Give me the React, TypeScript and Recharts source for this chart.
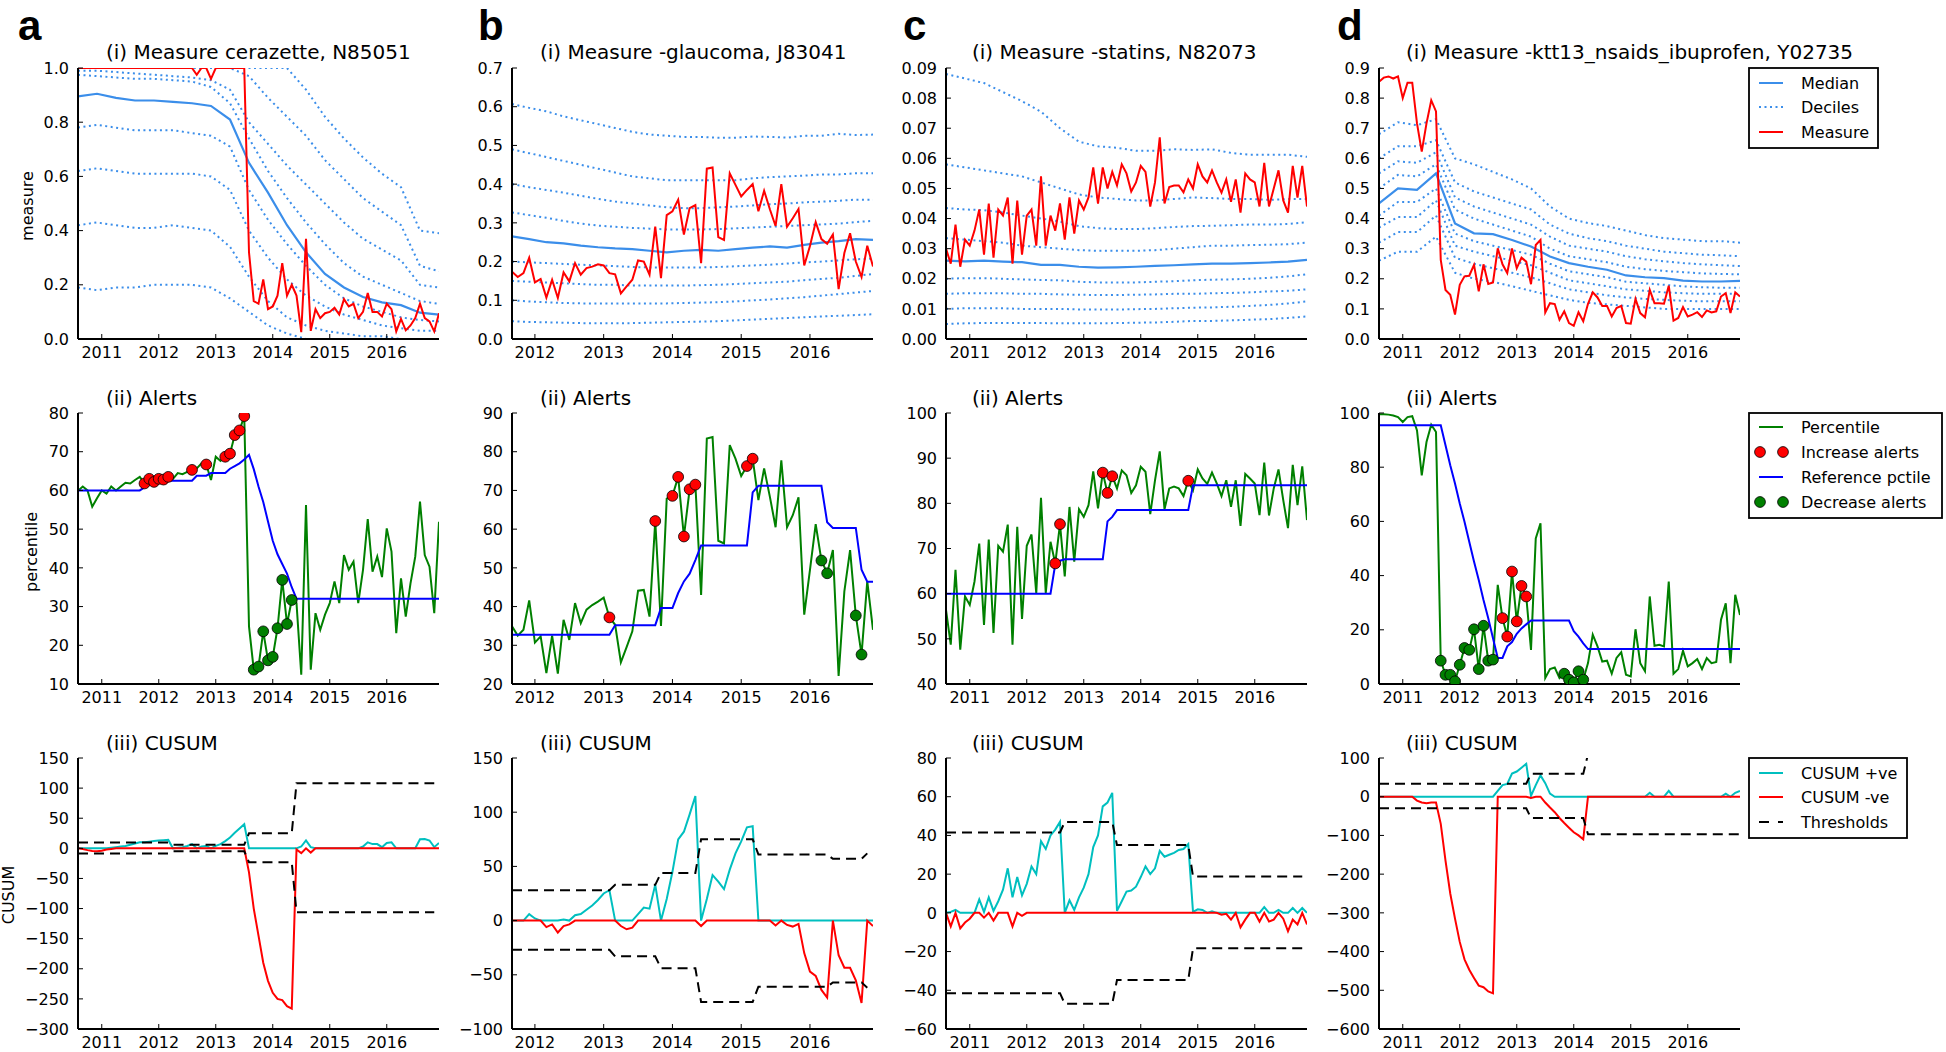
import React from "react";
import { ComposedChart, Line, Scatter, XAxis, YAxis } from "recharts";

const FONT = "DejaVu Sans";
const START_ACD = 2010 + 7 / 12; // Aug 2010
const START_B = 2011 + 8 / 12; // Sep 2011
const END = 2016 + 11 / 12; // Dec 2016

const MED = "#3b8eea";
const RED = "#ff0000";
const GREEN = "#008000";
const BLUE = "#0000ff";
const CYAN = "#00bfbf";

const yearsACD = [2011, 2012, 2013, 2014, 2015, 2016];
const yearsB = [2012, 2013, 2014, 2015, 2016];

// ---------- (i) measure: monthly measure, deciles/median every 4 (b: 3) months ----------
const aMeasure = [
  1, 1, 1, 1, 1, 1, 1, 1, 1, 1, 1, 1, 1, 1, 1, 1, 1, 1, 1, 1, 1, 1, 1, 1, 1, 0.975, 1, 1, 0.96, 1,
  1, 1, 1, 1, 1, 1, 0.32, 0.14, 0.13, 0.22, 0.11, 0.12, 0.16, 0.28, 0.16, 0.2, 0.16, 0.025, 0.37, 0.03,
  0.11, 0.077, 0.095, 0.1, 0.115, 0.09, 0.147, 0.12, 0.13, 0.077, 0.1, 0.17, 0.1, 0.1, 0.083, 0.13, 0.11, 0.028, 0.074, 0.032,
  0.05, 0.077, 0.13, 0.077, 0.065, 0.028, 0.095,
];
const aMedian = [0.895, 0.905, 0.89, 0.88, 0.88, 0.875, 0.87, 0.86, 0.81, 0.65, 0.54, 0.42, 0.32, 0.24, 0.19, 0.155, 0.135, 0.125, 0.097, 0.09];
const aDec90 = [1, 1, 1, 1, 1, 1, 1, 1, 1, 1, 1, 1, 0.92, 0.82, 0.74, 0.67, 0.61, 0.56, 0.4, 0.39];
const aDec80 = [1, 1, 1, 1, 1, 1, 1, 1, 1, 0.97, 0.89, 0.82, 0.75, 0.66, 0.59, 0.52, 0.47, 0.42, 0.27, 0.25];
const aDec70 = [0.99, 0.99, 0.985, 0.98, 0.975, 0.97, 0.965, 0.955, 0.92, 0.8, 0.72, 0.64, 0.57, 0.5, 0.43, 0.37, 0.33, 0.29, 0.2, 0.19];
const aDec60 = [0.975, 0.97, 0.965, 0.96, 0.96, 0.955, 0.95, 0.93, 0.87, 0.74, 0.62, 0.52, 0.43, 0.35, 0.28, 0.23, 0.2, 0.17, 0.14, 0.13];
const aDec40 = [0.78, 0.79, 0.78, 0.77, 0.77, 0.77, 0.76, 0.75, 0.71, 0.55, 0.44, 0.35, 0.27, 0.2, 0.15, 0.12, 0.1, 0.08, 0.07, 0.065];
const aDec30 = [0.62, 0.63, 0.62, 0.61, 0.61, 0.61, 0.61, 0.6, 0.55, 0.4, 0.3, 0.22, 0.16, 0.12, 0.09, 0.07, 0.05, 0.04, 0.03, 0.03];
const aDec20 = [0.42, 0.43, 0.42, 0.41, 0.41, 0.42, 0.41, 0.4, 0.34, 0.23, 0.14, 0.08, 0.05, 0.03, 0.02, 0.01, 0.01, 0, 0, 0];
const aDec10 = [0.19, 0.18, 0.19, 0.19, 0.2, 0.2, 0.2, 0.19, 0.15, 0.1, 0.05, 0.02, 0, 0, 0, 0, 0, 0, 0, 0];

const bMeasure = [
  0.174, 0.16, 0.17, 0.21, 0.146, 0.155, 0.107, 0.153, 0.106, 0.172, 0.149, 0.196, 0.166, 0.183, 0.187, 0.193, 0.19, 0.17, 0.167, 0.118,
  0.136, 0.153, 0.203, 0.2, 0.166, 0.29, 0.157, 0.32, 0.33, 0.36, 0.27, 0.338, 0.346, 0.196, 0.44, 0.443, 0.263, 0.256, 0.428, 0.398,
  0.368, 0.385, 0.4, 0.33, 0.383, 0.335, 0.292, 0.4, 0.29, 0.312, 0.336, 0.19, 0.24, 0.302, 0.258, 0.246, 0.27, 0.129, 0.222, 0.273,
  0.2, 0.16, 0.241, 0.187,
];
const bMedian = [0.265, 0.258, 0.25, 0.247, 0.241, 0.237, 0.234, 0.232, 0.228, 0.224, 0.228, 0.23, 0.228, 0.232, 0.236, 0.239, 0.236, 0.243, 0.249, 0.253, 0.258, 0.256];
const bDec90 = [0.607, 0.597, 0.588, 0.575, 0.565, 0.555, 0.545, 0.535, 0.528, 0.525, 0.522, 0.522, 0.52, 0.52, 0.523, 0.522, 0.52, 0.525, 0.525, 0.53, 0.527, 0.528];
const bDec80 = [0.49, 0.48, 0.47, 0.46, 0.45, 0.44, 0.43, 0.42, 0.415, 0.41, 0.41, 0.41, 0.41, 0.41, 0.415, 0.418, 0.42, 0.422, 0.425, 0.425, 0.428, 0.428];
const bDec70 = [0.4, 0.392, 0.385, 0.378, 0.37, 0.362, 0.355, 0.35, 0.345, 0.34, 0.338, 0.338, 0.34, 0.342, 0.345, 0.348, 0.35, 0.353, 0.355, 0.357, 0.36, 0.36];
const bDec60 = [0.327, 0.32, 0.313, 0.305, 0.298, 0.293, 0.29, 0.287, 0.285, 0.283, 0.283, 0.283, 0.284, 0.286, 0.288, 0.29, 0.292, 0.294, 0.296, 0.298, 0.302, 0.305];
const bDec40 = [0.2, 0.198, 0.196, 0.194, 0.192, 0.19, 0.188, 0.186, 0.185, 0.185, 0.185, 0.185, 0.186, 0.188, 0.19, 0.192, 0.195, 0.198, 0.2, 0.203, 0.206, 0.208];
const bDec30 = [0.15, 0.148, 0.146, 0.144, 0.142, 0.14, 0.14, 0.138, 0.138, 0.138, 0.138, 0.139, 0.14, 0.142, 0.144, 0.146, 0.148, 0.152, 0.155, 0.158, 0.163, 0.168];
const bDec20 = [0.1, 0.097, 0.095, 0.093, 0.092, 0.092, 0.092, 0.092, 0.092, 0.092, 0.093, 0.094, 0.095, 0.097, 0.1, 0.102, 0.105, 0.108, 0.112, 0.116, 0.12, 0.124];
const bDec10 = [0.046, 0.044, 0.043, 0.042, 0.041, 0.041, 0.041, 0.041, 0.042, 0.043, 0.044, 0.045, 0.046, 0.048, 0.05, 0.052, 0.054, 0.056, 0.058, 0.06, 0.062, 0.064];

const cMeasure = [
  0.03, 0.025, 0.038, 0.024, 0.033, 0.031, 0.036, 0.043, 0.028, 0.045, 0.027, 0.043, 0.041, 0.047, 0.025, 0.046, 0.028, 0.041, 0.043, 0.031,
  0.054, 0.031, 0.041, 0.036, 0.045, 0.033, 0.047, 0.035, 0.046, 0.043, 0.047, 0.057, 0.045, 0.057, 0.05, 0.0555, 0.051, 0.058, 0.055, 0.049,
  0.052, 0.0575, 0.0555, 0.044, 0.052, 0.067, 0.045, 0.0505, 0.051, 0.051, 0.0487, 0.053, 0.05, 0.058, 0.054, 0.052, 0.056, 0.052, 0.0486, 0.053,
  0.0456, 0.053, 0.042, 0.055, 0.053, 0.052, 0.044, 0.0585, 0.044, 0.05, 0.056, 0.046, 0.042, 0.0575, 0.047, 0.0575, 0.044,
];
const cMedian = [0.026, 0.0258, 0.026, 0.0257, 0.0255, 0.0246, 0.0246, 0.024, 0.0237, 0.0238, 0.024, 0.0243, 0.0245, 0.0248, 0.025, 0.025, 0.0252, 0.0254, 0.0257, 0.0263];
const cDec90 = [0.088, 0.0865, 0.085, 0.082, 0.079, 0.0755, 0.07, 0.0655, 0.064, 0.0635, 0.0625, 0.0625, 0.063, 0.0628, 0.063, 0.0618, 0.0612, 0.0612, 0.0612, 0.0605];
const cDec80 = [0.058, 0.057, 0.056, 0.055, 0.054, 0.052, 0.05, 0.048, 0.047, 0.0465, 0.046, 0.046, 0.0465, 0.047, 0.0468, 0.0465, 0.0465, 0.0462, 0.0465, 0.0465];
const cDec70 = [0.0435, 0.043, 0.0428, 0.042, 0.041, 0.04, 0.039, 0.0375, 0.0368, 0.0365, 0.0365, 0.0368, 0.0372, 0.0375, 0.0376, 0.0378, 0.038, 0.038, 0.0382, 0.0388];
const cDec60 = [0.0335, 0.033, 0.0325, 0.032, 0.031, 0.0305, 0.03, 0.0295, 0.0293, 0.0293, 0.0293, 0.0295, 0.03, 0.0305, 0.031, 0.031, 0.0312, 0.0313, 0.0315, 0.032];
const cDec40 = [0.02, 0.0202, 0.0202, 0.02, 0.0198, 0.0196, 0.0195, 0.019, 0.0188, 0.0188, 0.0188, 0.019, 0.0192, 0.0195, 0.0197, 0.0198, 0.02, 0.0203, 0.0208, 0.0215];
const cDec30 = [0.015, 0.0152, 0.0152, 0.0152, 0.015, 0.015, 0.0148, 0.0147, 0.0146, 0.0146, 0.0147, 0.0148, 0.015, 0.015, 0.0152, 0.0153, 0.0155, 0.0158, 0.016, 0.0165];
const cDec20 = [0.01, 0.0102, 0.0102, 0.0102, 0.01, 0.01, 0.01, 0.0098, 0.0098, 0.0098, 0.0099, 0.01, 0.0102, 0.0104, 0.0105, 0.0107, 0.011, 0.0113, 0.0118, 0.0125];
const cDec10 = [0.005, 0.0052, 0.0053, 0.0053, 0.0053, 0.0053, 0.0052, 0.0052, 0.0052, 0.0053, 0.0054, 0.0055, 0.0057, 0.006, 0.006, 0.0062, 0.0064, 0.0066, 0.007, 0.0075];

const dMeasure = [
  0.854, 0.868, 0.872, 0.865, 0.872, 0.8, 0.851, 0.851, 0.716, 0.622, 0.716, 0.793, 0.756, 0.263, 0.163, 0.147, 0.081, 0.18, 0.208, 0.21,
  0.246, 0.158, 0.248, 0.183, 0.188, 0.301, 0.248, 0.219, 0.301, 0.235, 0.27, 0.257, 0.182, 0.312, 0.329, 0.088, 0.119, 0.116, 0.064, 0.092,
  0.053, 0.044, 0.089, 0.059, 0.117, 0.155, 0.138, 0.11, 0.11, 0.075, 0.103, 0.11, 0.053, 0.051, 0.133, 0.086, 0.072, 0.163, 0.119, 0.119,
  0.117, 0.177, 0.061, 0.07, 0.106, 0.075, 0.081, 0.089, 0.073, 0.095, 0.088, 0.092, 0.141, 0.152, 0.086, 0.155, 0.141,
];
const dMedian = [0.45, 0.5, 0.495, 0.55, 0.384, 0.351, 0.348, 0.329, 0.307, 0.274, 0.252, 0.24, 0.23, 0.211, 0.205, 0.202, 0.194, 0.191, 0.191, 0.193];
const dDec90 = [0.68, 0.72, 0.71, 0.73, 0.6, 0.58, 0.555, 0.53, 0.5, 0.44, 0.4, 0.385, 0.375, 0.36, 0.345, 0.335, 0.33, 0.325, 0.325, 0.32];
const dDec80 = [0.6, 0.64, 0.64, 0.66, 0.52, 0.49, 0.47, 0.45, 0.43, 0.38, 0.35, 0.335, 0.325, 0.31, 0.3, 0.29, 0.285, 0.28, 0.278, 0.275];
const dDec70 = [0.55, 0.59, 0.585, 0.62, 0.47, 0.44, 0.42, 0.4, 0.38, 0.34, 0.31, 0.3, 0.29, 0.275, 0.265, 0.258, 0.252, 0.248, 0.245, 0.242];
const dDec60 = [0.5, 0.545, 0.54, 0.58, 0.43, 0.4, 0.38, 0.36, 0.34, 0.3, 0.275, 0.265, 0.255, 0.24, 0.232, 0.226, 0.222, 0.218, 0.216, 0.215];
const dDec40 = [0.41, 0.455, 0.455, 0.5, 0.35, 0.325, 0.31, 0.295, 0.28, 0.25, 0.225, 0.215, 0.205, 0.19, 0.185, 0.18, 0.175, 0.172, 0.17, 0.17];
const dDec30 = [0.37, 0.405, 0.405, 0.46, 0.31, 0.29, 0.275, 0.26, 0.245, 0.22, 0.195, 0.185, 0.175, 0.165, 0.16, 0.155, 0.152, 0.15, 0.15, 0.15];
const dDec20 = [0.32, 0.355, 0.355, 0.41, 0.27, 0.25, 0.235, 0.22, 0.205, 0.185, 0.165, 0.155, 0.145, 0.138, 0.133, 0.13, 0.127, 0.125, 0.125, 0.125];
const dDec10 = [0.26, 0.29, 0.29, 0.34, 0.22, 0.2, 0.19, 0.175, 0.16, 0.145, 0.13, 0.12, 0.115, 0.11, 0.105, 0.1, 0.1, 0.1, 0.1, 0.1];

// ---------- (ii) alerts: percentile, reference percentile, alert months ----------
const aPct = [
  59.9, 61, 60, 55.8, 58, 60, 59.2, 61, 60, 61, 62, 61.8, 62.7, 63.5, 61.8, 63, 62.2, 63, 62.8, 63.5,
  63, 64.5, 64.2, 64.8, 65.3, 65.7, 67, 66.7, 62.7, 68.7, 67.6, 68.7, 69.5, 74.3, 75.5, 79.2, 24.9, 13.7, 14.5, 23.6,
  16.1, 17, 24.4, 36.9, 25.5, 31.7, 30.9, 12.4, 56.2, 13.7, 28.3, 24, 27.9, 30.9, 36.5, 30.9, 43.3, 39.5, 41.6, 30.9,
  39.5, 52.6, 39, 42.9, 37.6, 50.2, 44.2, 23.1, 37.3, 27.4, 36, 42.9, 57.1, 43.3, 40.3, 28.3, 51.9,
];
const aRef = [
  60, 60, 60, 60, 60, 60, 60, 60, 60, 60, 60, 60, 60, 60, 60.8, 61.5, 62, 62.4, 62.5, 62.5,
  62.5, 62.5, 62.5, 62.5, 62.5, 63.8, 63.8, 63.8, 64.5, 64.5, 64.5, 64.5, 65.6, 66.3, 67, 68, 69.2, 65.5, 61, 57,
  52, 47, 43.5, 41, 38.5, 35, 32, 32, 32, 32, 32, 32, 32, 32, 32, 32, 32, 32, 32, 32,
  32, 32, 32, 32, 32, 32, 32, 32, 32, 32, 32, 32, 32, 32, 32, 32, 32,
];
const aIncIdx = [14, 15, 16, 17, 18, 19, 24, 27, 31, 32, 33, 34, 35];
const aDecIdx = [37, 38, 39, 40, 41, 42, 43, 44, 45];

const bPct = [
  34.9, 32.5, 34, 41.6, 30.7, 32.3, 22.8, 32.5, 22.7, 36.6, 31.4, 40.9, 35.7, 39.2, 40.4, 41.3, 42.3, 37.2, 35.3, 25.6,
  29.5, 33.6, 44.1, 44.3, 37.4, 62.1, 35, 67.9, 68.6, 73.5, 58.1, 70.3, 71.5, 43, 83.4, 83.8, 57, 56.3, 81.7, 78.2,
  73.7, 76.3, 78.2, 67.5, 75.7, 68.4, 60.5, 77.8, 60.5, 63.6, 68.2, 37.9, 49.5, 61.3, 51.9, 48.6, 54.6, 22.1, 43.9, 54.6,
  37.7, 27.6, 46.5, 34,
];
const bRef = [
  32.7, 32.7, 32.7, 32.7, 32.7, 32.7, 32.7, 32.7, 32.7, 32.7, 32.7, 32.7, 32.7, 32.7, 32.7, 32.7, 32.7, 32.7, 35.2, 35.2,
  35.2, 35.2, 35.2, 35.2, 35.2, 35.2, 39.6, 39.6, 39.6, 43.5, 46.5, 48.5, 52, 55.8, 55.8, 55.8, 55.8, 55.8, 55.8, 55.8,
  55.8, 55.8, 69.5, 71.2, 71.2, 71.2, 71.2, 71.2, 71.2, 71.2, 71.2, 71.2, 71.2, 71.2, 71.2, 61.8, 60.3, 60.3, 60.3, 60.3,
  60.3, 49.5, 46.4, 46.4,
];
const bIncIdx = [17, 25, 28, 29, 30, 31, 32, 41, 42];
const bDecIdx = [54, 55, 60, 61];

const cPct = [
  56.4, 48.7, 65.3, 47.6, 59.4, 57.5, 62.7, 71.1, 53.1, 72, 51.3, 70.6, 69.3, 75.3, 48.7, 74.8, 54.4, 70.6, 73.1, 60.1,
  81.2, 60.1, 71.5, 66.7, 75.4, 63.8, 79.2, 67.1, 78.7, 77, 79.6, 87.1, 78.9, 86.8, 82.3, 86, 83.3, 87.3, 86.2, 82.3,
  84, 88.1, 87, 77.6, 85.1, 91.5, 78.7, 83.3, 83.7, 83.3, 81.6, 85, 82.9, 87.5, 85.5, 84.3, 86.8, 84.4, 81.6, 85.1,
  79.2, 85.1, 75, 86.5, 85.5, 84.4, 77.4, 89, 77.3, 83.3, 87.5, 80.7, 74.5, 88.5, 79.6, 88.2, 76.3,
];
const cRef = [
  60, 60, 60, 60, 60, 60, 60, 60, 60, 60, 60, 60, 60, 60, 60, 60, 60, 60, 60, 60,
  60, 60, 60, 66.5, 67.3, 67.6, 67.6, 67.6, 67.6, 67.6, 67.6, 67.6, 67.6, 67.6, 76, 77, 78.5, 78.5, 78.5, 78.5,
  78.5, 78.5, 78.5, 78.5, 78.5, 78.5, 78.5, 78.5, 78.5, 78.5, 78.5, 78.5, 84, 84, 84, 84, 84, 84, 84, 84,
  84, 84, 84, 84, 84, 84, 84, 84, 84, 84, 84, 84, 84, 84, 84, 84, 84,
];
const cIncIdx = [23, 24, 33, 34, 35, 51];
const cDecIdx: number[] = [];

const dPct = [
  99.5, 99.5, 99.4, 99.1, 98.5, 96.7, 98.5, 98.8, 93.6, 77, 89.3, 95.7, 93, 8.6, 3.4, 3.4, 1, 7.1, 13.3, 12.6,
  20.2, 5.5, 21.5, 8.6, 9, 36.6, 24.3, 17.5, 41.5, 23.1, 36.2, 32.3, 12.6, 53.7, 59.3, 2.2, 5.5, 6.1, 2.2, 3.8,
  1.6, 0.6, 4.7, 1.6, 7.7, 18.2, 13.9, 8.3, 8.6, 3.8, 9.6, 11.7, 3.4, 2.8, 20.2, 7.7, 4.7, 32.3, 14.1, 14.5,
  13.9, 37.8, 3.8, 5.5, 12.3, 6.5, 7.7, 9.2, 5.5, 9.6, 7.7, 8.1, 23.7, 29.8, 7.7, 32.9, 25.5,
];
const dRef = [
  95.5, 95.5, 95.5, 95.5, 95.5, 95.5, 95.5, 95.5, 95.5, 95.5, 95.5, 95.5, 95.5, 95.5, 88.1, 80.7, 74, 66.6, 59.9, 52.5,
  45.2, 38.4, 31, 24.3, 16.9, 9.6, 9.6, 13.9, 15.5, 18.5, 20.5, 22, 23.4, 23.4, 23.4, 23.4, 23.4, 23.4, 23.4, 23.4,
  23.4, 19.5, 17.5, 15, 12.9, 12.9, 12.9, 12.9, 12.9, 12.9, 12.9, 12.9, 12.9, 12.9, 12.9, 12.9, 12.9, 12.9, 12.9, 12.9,
  12.9, 12.9, 12.9, 12.9, 12.9, 12.9, 12.9, 12.9, 12.9, 12.9, 12.9, 12.9, 12.9, 12.9, 12.9, 12.9, 12.9,
];
const dIncIdx = [26, 27, 28, 29, 30, 31];
const dDecIdx = [13, 14, 15, 16, 17, 18, 19, 20, 21, 22, 23, 24, 39, 40, 41, 42, 43];

// ---------- (iii) CUSUM ----------
const aCusPos = [
  0, 0, 0, 0, 0, 0, 0, 1, 2, 3, 4, 6, 8, 10, 10, 11, 12, 13, 13.5, 14,
  0, 1, 2, 4, 7, 0, 3, 4, 0, 4, 7, 12, 18, 26, 33, 40, 0, 0, 0, 0,
  0, 0, 0, 0, 0, 0, 0, 3, 13, 2, 0, 0, 0, 0, 0, 0, 0, 0, 0, 0,
  3, 10, 7, 7, 2, 9, 10, 0, 0, 0, 0, 0, 15, 15.5, 13, 2, 9,
];
const aCusNeg = [
  0, -1, -3, -4.5, -5, -4, -2, -1, 0, 0, 0, 0, 0, 0, 0, 0, 0, 0, 0, 0,
  0, 0, 0, 0, 0, 0, 0, 0, 0, 0, 0, 0, 0, 0, 0, 0, -40, -100, -145, -190,
  -220, -240, -250, -252, -262, -266, -2, -8, 0, -7, 0, 0, 0, 0, 0, 0, 0, 0, 0, 0,
  0, 0, 0, 0, 0, 0, 0, 0, 0, 0, 0, 0, 0, 0, 0, 0, 0,
];
const aThrUp = [
  9.5, 9.5, 9.5, 9.5, 9.5, 9.5, 9.5, 9.5, 9.5, 9.5, 9.5, 9.5, 9.5, 9.5, 9.5, 9.5, 9.5, 9.5, 9.5, 9.5,
  6, 6, 6, 6, 6, 6, 6, 6, 6, 6, 6, 6, 6, 6, 6, 6, 25, 25, 25, 25,
  25, 25, 25, 25, 25, 25, 108, 108, 108, 108, 108, 108, 108, 108, 108, 108, 108, 108, 108, 108,
  108, 108, 108, 108, 108, 108, 108, 108, 108, 108, 108, 108, 108, 108, 108, 108,
];
const aThrLo = [
  -8.5, -8.5, -8.5, -8.5, -8.5, -8.5, -8.5, -8.5, -8.5, -8.5, -8.5, -8.5, -8.5, -8.5, -8.5, -8.5, -8.5, -8.5, -8.5, -8.5,
  -5, -5, -5, -5, -5, -5, -5, -5, -5, -5, -5, -5, -5, -5, -5, -5, -23, -23, -23, -23,
  -23, -23, -23, -23, -23, -23, -106, -106, -106, -106, -106, -106, -106, -106, -106, -106, -106, -106, -106, -106,
  -106, -106, -106, -106, -106, -106, -106, -106, -106, -106, -106, -106, -106, -106, -106, -106,
];

const bCusPos = [
  0, 0, 0, 6, 2, 0, 0, 0, 0, 1, 0, 5, 6, 10, 14, 19, 25, 28, 0, 0,
  0, 0, 6, 12, 11, 33, 0, 20, 45, 75, 82, 98, 115, 0, 20, 42, 36, 29, 47, 62,
  73, 86, 87, 0, 0, 0, 0, 0, 0, 0, 0, 0, 0, 0, 0, 0, 0, 0, 0, 0,
  0, 0, 0, 0,
];
const bCusNeg = [
  0, 0, 0, 0, 0, 0, -6, -3.5, -11, -5, -3.5, 0, 0, 0, 0, 0, 0, 0, 0, -5,
  -8, -6.5, 0, 0, 0, 0, 0, 0, 0, 0, 0, 0, 0, -5, 0, 0, 0, 0, 0, 0,
  0, 0, 0, 0, 0, 0, -4.5, 0, -4, -5.5, -3, -30, -47, -51, -64, -71, 0, -32, -43.5, -43.5,
  -55, -76, 0, -5,
];
const bThrUp = [
  28, 28, 28, 28, 28, 28, 28, 28, 28, 28, 28, 28, 28, 28, 28, 28, 28, 28, 33, 33,
  33, 33, 33, 33, 33, 33, 44, 44, 44, 44, 44, 44, 44, 75, 75, 75, 75, 75, 75, 75,
  75, 75, 75, 61, 61, 61, 61, 61, 61, 61, 61, 61, 61, 61, 61, 61, 57, 57, 57, 57,
  57, 57, 62,
];
const bThrLo = [
  -27, -27, -27, -27, -27, -27, -27, -27, -27, -27, -27, -27, -27, -27, -27, -27, -27, -27, -33, -33,
  -33, -33, -33, -33, -33, -33, -44, -44, -44, -44, -44, -44, -44, -75, -75, -75, -75, -75, -75, -75,
  -75, -75, -75, -61, -61, -61, -61, -61, -61, -61, -61, -61, -61, -61, -61, -61, -57, -57, -57, -57,
  -57, -57, -62,
];

const cCusPos = [
  0, 0.5, 1.5, 0, 0, 0, 0, 7, 0.5, 8, 1, 6, 12, 23, 8, 18.5, 9, 15, 24, 20,
  37, 33, 40, 43, 47, 0, 6.5, 1.5, 8, 13, 20, 34, 40, 55, 57, 62, 1, 6, 11, 11.5,
  13.5, 18.5, 24, 20, 23, 32, 29, 30, 31, 32.5, 33, 35.5, 0.5, 1.8, 1.5, 0, 0.8, 0, 0, 0,
  0, 0, 0, 0, 0, 0, 0, 3, 0, 0, 1.5, 0, 0, 2.5, 0, 2.5, 0,
];
const cCusNeg = [
  0, -7, 0, -8, -5, -3, 0, 0, -2.5, 0, -4, 0, 0, 0, -7, 0, -1.5, 0, 0, 0,
  0, 0, 0, 0, 0, 0, 0, 0, 0, 0, 0, 0, 0, 0, 0, 0, 0, 0, 0, 0,
  0, 0, 0, 0, 0, 0, 0, 0, 0, 0, 0, 0, 0, 0, 0, 0, 0, 0, -1, -0.5,
  -3.5, 0, -7.5, -3.5, 0, 0, -4.5, 0, -4.5, -3.5, 0, -3, -9.5, -3.5, -6, 0, -6,
];
const cThrUp = [
  41.5, 41.5, 41.5, 41.5, 41.5, 41.5, 41.5, 41.5, 41.5, 41.5, 41.5, 41.5, 41.5, 41.5, 41.5, 41.5, 41.5, 41.5, 41.5, 41.5,
  41.5, 41.5, 41.5, 41.5, 41.5, 47, 47, 47, 47, 47, 47, 47, 47, 47, 47, 47, 35, 35, 35, 35,
  35, 35, 35, 35, 35, 35, 35, 35, 35, 35, 35, 35, 18.8, 18.8, 18.8, 18.8, 18.8, 18.8, 18.8, 18.8,
  18.8, 18.8, 18.8, 18.8, 18.8, 18.8, 18.8, 18.8, 18.8, 18.8, 18.8, 18.8, 18.8, 18.8, 18.8, 18.8,
];
const cThrLo = [
  -41.5, -41.5, -41.5, -41.5, -41.5, -41.5, -41.5, -41.5, -41.5, -41.5, -41.5, -41.5, -41.5, -41.5, -41.5, -41.5, -41.5, -41.5, -41.5, -41.5,
  -41.5, -41.5, -41.5, -41.5, -41.5, -47, -47, -47, -47, -47, -47, -47, -47, -47, -47, -47, -34.7, -34.7, -34.7, -34.7,
  -34.7, -34.7, -34.7, -34.7, -34.7, -34.7, -34.7, -34.7, -34.7, -34.7, -34.7, -34.7, -18.3, -18.3, -18.3, -18.3, -18.3, -18.3, -18.3, -18.3,
  -18.3, -18.3, -18.3, -18.3, -18.3, -18.3, -18.3, -18.3, -18.3, -18.3, -18.3, -18.3, -18.3, -18.3, -18.3, -18.3,
];

const dCusPos = [
  0, 0, 0, 0, 0, 0, 0, 0, 0, 0, 0, 0, 0, 0, 0, 0, 0, 0, 0, 0,
  0, 0, 0, 0, 0, 15, 30, 33, 60, 65, 75, 85, 2, 30, 55, 35, 8, 0, 0, 0,
  0, 0, 0, 0, 0, 0, 0, 0, 0, 0, 0, 0, 0, 0, 0, 0, 0, 10, 0, 0,
  0, 15, 0, 0, 0, 0, 0, 0, 0, 0, 0, 0, 0, 8, 0, 10, 15,
];
const dCusNeg = [
  0, 0, 0, 0, 0, 0, 0, 0, -10, -15, -17, -15, -15, -70, -165, -250, -315, -375, -420, -447,
  -468, -488, -492, -503, -508, 0, 0, 0, 0, 0, 0, 0, -3, 0, 0, -15, -28, -40, -55, -68,
  -80, -92, -100, -110, 0, 0, 0, 0, 0, 0, 0, 0, 0, 0, 0, 0, 0, 0, 0, 0,
  0, 0, 0, 0, 0, 0, 0, 0, 0, 0, 0, 0, 0, 0, 0, 0, 0,
];
const dThrUp = [
  33.5, 33.5, 33.5, 33.5, 33.5, 33.5, 33.5, 33.5, 33.5, 33.5, 33.5, 33.5, 33.5, 33.5, 33.5, 33.5, 33.5, 33.5, 33.5, 33.5,
  33.5, 33.5, 33.5, 33.5, 33.5, 33.5, 33.5, 33.5, 33.5, 33.5, 33.5, 33.5, 59, 59, 59, 59, 59, 59, 59, 59,
  59, 59, 59, 59, 110, 110, 110, 110, 110, 110, 110, 110, 110, 110, 110, 110, 110, 110, 110, 110,
  110, 110, 110, 110, 110, 110, 110, 110, 110, 110, 110, 110, 110, 110, 110, 110, 110,
];
const dThrLo = [
  -30, -30, -30, -30, -30, -30, -30, -30, -30, -30, -30, -30, -30, -30, -30, -30, -30, -30, -30, -30,
  -30, -30, -30, -30, -30, -30, -30, -30, -30, -30, -30, -30, -55, -55, -55, -55, -55, -55, -55, -55,
  -55, -55, -55, -55, -97, -97, -97, -97, -97, -97, -97, -97, -97, -97, -97, -97, -97, -97, -97, -97,
  -97, -97, -97, -97, -97, -97, -97, -97, -97, -97, -97, -97, -97, -97, -97, -97, -97,
];

// ---------- y ticks ----------
const aMeasTicks = [0, 0.2, 0.4, 0.6, 0.8, 1.0];
const bMeasTicks = [0, 0.1, 0.2, 0.3, 0.4, 0.5, 0.6, 0.7];
const cMeasTicks = [0, 0.01, 0.02, 0.03, 0.04, 0.05, 0.06, 0.07, 0.08, 0.09];
const dMeasTicks = [0, 0.1, 0.2, 0.3, 0.4, 0.5, 0.6, 0.7, 0.8, 0.9];
const aPctTicks = [10, 20, 30, 40, 50, 60, 70, 80];
const bPctTicks = [20, 30, 40, 50, 60, 70, 80, 90];
const cPctTicks = [40, 50, 60, 70, 80, 90, 100];
const dPctTicks = [0, 20, 40, 60, 80, 100];
const aCusTicks = [-300, -250, -200, -150, -100, -50, 0, 50, 100, 150];
const bCusTicks = [-100, -50, 0, 50, 100, 150];
const cCusTicks = [-60, -40, -20, 0, 20, 40, 60, 80];
const dCusTicks = [-600, -500, -400, -300, -200, -100, 0, 100];

// ---------- helpers ----------
type Pt = { x: number; y: number };
type LineSpec = { data: Pt[]; color: string; width?: number; dash?: string };
type DotSpec = { data: Pt[]; color: string };

const ser = (start: number, vals: number[], step = 1): Pt[] => vals.map((v, i) => ({ x: start + (i * step) / 12, y: v }));
const at = (start: number, vals: number[], idx: number[]): Pt[] => idx.map((i) => ({ x: start + i / 12, y: vals[i] }));

const decileLines = (start: number, arrs: number[][], step: number): LineSpec[] =>
  arrs.map((a) => ({ data: ser(start, a, step), color: MED, width: 2, dash: "2 3.5" }));

const measureLines = (start: number, decs: number[][], med: number[], meas: number[], step: number): LineSpec[] => [
  ...decileLines(start, decs, step),
  { data: ser(start, med, step), color: MED, width: 2.2 },
  { data: ser(start, meas), color: RED, width: 2 },
];
const cusumLines = (start: number, pos: number[], neg: number[], up: number[], lo: number[]): LineSpec[] => [
  { data: ser(start, pos), color: CYAN, width: 2 },
  { data: ser(start, neg), color: RED, width: 2 },
  { data: ser(start, up), color: "#000", width: 2, dash: "10 6" },
  { data: ser(start, lo), color: "#000", width: 2, dash: "10 6" },
];

const PW = 361;
const PH = 271;
const YW = 72;
const TM = 10;
const RM = 10;
const XH = 34;
const COLS = [78, 512, 946, 1379];
const ROWS = [68, 413, 758];
const DOT_R = 5.4;

const tickStyle = { fill: "#000", fontSize: 16, fontFamily: FONT };
const axisStyle = { stroke: "#000", strokeWidth: 2 };

function Panel(props: {
  col: number;
  row: number;
  xStart: number;
  xTicks: number[];
  yTicks: number[];
  digits: number;
  lines: LineSpec[];
  dots?: DotSpec[];
}) {
  const { col, row, xStart, xTicks, yTicks, digits, lines, dots } = props;
  const yDomain = [yTicks[0], yTicks[yTicks.length - 1]];
  const fmt = (v: number) => v.toFixed(digits).replace("-", "\u2212");
  return (
    <div style={{ position: "absolute", left: COLS[col] - YW, top: ROWS[row] - TM }}>
      <ComposedChart width={YW + PW + RM} height={TM + PH + XH} margin={{ top: TM, right: RM, bottom: 0, left: 0 }}>
        <XAxis type="number" dataKey="x" domain={[xStart, END]} ticks={xTicks} interval={0} allowDataOverflow height={XH}
          tickSize={-5} tickMargin={13} tick={tickStyle} axisLine={axisStyle} tickLine={{ stroke: "#000" }} />
        <XAxis xAxisId="top" orientation="top" type="number" dataKey="x" domain={[xStart, END]} ticks={xTicks} interval={0}
          allowDataOverflow height={0} tickSize={-5} tick={false} axisLine={axisStyle} tickLine={{ stroke: "#000" }} />
        <YAxis type="number" dataKey="y" domain={yDomain} ticks={yTicks} interval={0} allowDataOverflow width={YW}
          tickSize={-5} tickMargin={14} tick={tickStyle} axisLine={axisStyle} tickLine={{ stroke: "#000" }} tickFormatter={fmt} />
        <YAxis yAxisId="right" orientation="right" type="number" domain={yDomain} ticks={yTicks} interval={0} allowDataOverflow
          width={0} tickSize={-5} tick={false} axisLine={axisStyle} tickLine={{ stroke: "#000" }} />
        {lines.map((l, i) => (
          <Line key={"l" + i} data={l.data} dataKey="y" type="linear" stroke={l.color} strokeWidth={l.width ?? 2}
            strokeDasharray={l.dash} dot={false} activeDot={false} isAnimationActive={false} />
        ))}
        {(dots ?? []).map((d, i) => (
          <Scatter key={"s" + i} data={d.data} dataKey="y" fill={d.color} isAnimationActive={false}
            shape={(p: any) => <circle cx={p.cx} cy={p.cy} r={DOT_R} fill={d.color} stroke="#000" strokeWidth={0.8} />} />
        ))}
      </ComposedChart>
    </div>
  );
}

const titles1 = [
  "(i) Measure cerazette, N85051",
  "(i) Measure -glaucoma, J83041",
  "(i) Measure -statins, N82073",
  "(i) Measure -ktt13_nsaids_ibuprofen, Y02735",
];
const titleOffset = [28, 28, 26, 27];
const letters = ["a", "b", "c", "d"];
const letterX = [18, 478, 903, 1337];

function LegendBox({ x, y, w, h }: { x: number; y: number; w: number; h: number }) {
  return <rect x={x} y={y} width={w} height={h} fill="#fff" stroke="#000" strokeWidth={1.8} />;
}

function Overlay() {
  const t = { fontFamily: FONT, fill: "#000" } as const;
  const lx1 = 1759;
  const lx2 = 1783;
  const tx = 1801;
  return (
    <svg width={1946} height={1052} style={{ position: "absolute", left: 0, top: 0, pointerEvents: "none" }}>
      {letters.map((l, i) => (
        <text key={l} x={letterX[i]} y={40} fontFamily="Liberation Sans" fontWeight="bold" fontSize={42}>{l}</text>
      ))}
      {COLS.map((c, i) => (
        <g key={"t" + i}>
          <text {...t} x={c + titleOffset[i]} y={59} fontSize={20}>{titles1[i]}</text>
          <text {...t} x={c + titleOffset[i]} y={405} fontSize={20}>(ii) Alerts</text>
          <text {...t} x={c + titleOffset[i]} y={750} fontSize={20}>(iii) CUSUM</text>
        </g>
      ))}
      <text {...t} fontSize={16} textAnchor="middle" transform="translate(33,206) rotate(-90)">measure</text>
      <text {...t} fontSize={16} textAnchor="middle" transform="translate(37,552) rotate(-90)">percentile</text>
      <text {...t} fontSize={16} textAnchor="middle" transform="translate(14,895) rotate(-90)">CUSUM</text>

      <LegendBox x={1749} y={68} w={129} h={80} />
      <line x1={lx1} x2={lx2} y1={83} y2={83} stroke={MED} strokeWidth={2} />
      <text {...t} fontSize={16} x={tx} y={89}>Median</text>
      <line x1={lx1} x2={lx2} y1={107} y2={107} stroke={MED} strokeWidth={2} strokeDasharray="2 3.5" />
      <text {...t} fontSize={16} x={tx} y={113}>Deciles</text>
      <line x1={lx1} x2={lx2} y1={132} y2={132} stroke={RED} strokeWidth={2} />
      <text {...t} fontSize={16} x={tx} y={138}>Measure</text>

      <LegendBox x={1749} y={413} w={193} h={105} />
      <line x1={lx1} x2={lx2} y1={427} y2={427} stroke={GREEN} strokeWidth={2} />
      <text {...t} fontSize={16} x={tx} y={433}>Percentile</text>
      <circle cx={1760} cy={452} r={DOT_R} fill={RED} stroke="#000" strokeWidth={0.8} />
      <circle cx={1783} cy={452} r={DOT_R} fill={RED} stroke="#000" strokeWidth={0.8} />
      <text {...t} fontSize={16} x={tx} y={458}>Increase alerts</text>
      <line x1={lx1} x2={lx2} y1={477} y2={477} stroke={BLUE} strokeWidth={2} />
      <text {...t} fontSize={16} x={tx} y={483}>Reference pctile</text>
      <circle cx={1760} cy={502} r={DOT_R} fill={GREEN} stroke="#000" strokeWidth={0.8} />
      <circle cx={1783} cy={502} r={DOT_R} fill={GREEN} stroke="#000" strokeWidth={0.8} />
      <text {...t} fontSize={16} x={tx} y={508}>Decrease alerts</text>

      <LegendBox x={1749} y={758} w={158} h={80} />
      <line x1={lx1} x2={lx2} y1={773} y2={773} stroke={CYAN} strokeWidth={2} />
      <text {...t} fontSize={16} x={tx} y={779}>CUSUM +ve</text>
      <line x1={lx1} x2={lx2} y1={797} y2={797} stroke={RED} strokeWidth={2} />
      <text {...t} fontSize={16} x={tx} y={803}>CUSUM -ve</text>
      <line x1={lx1} x2={lx2} y1={822} y2={822} stroke="#000" strokeWidth={2} strokeDasharray="10 9" />
      <text {...t} fontSize={16} x={tx} y={828}>Thresholds</text>
    </svg>
  );
}

export default function App() {
  return (
    <div style={{ position: "absolute", left: 0, top: 0, width: 1946, height: 1052, background: "#fff" }}>
      {/* row (i) */}
      <Panel col={0} row={0} xStart={START_ACD} xTicks={yearsACD} yTicks={aMeasTicks} digits={1}
        lines={measureLines(START_ACD, [aDec10, aDec20, aDec30, aDec40, aDec60, aDec70, aDec80, aDec90], aMedian, aMeasure, 4)} />
      <Panel col={1} row={0} xStart={START_B} xTicks={yearsB} yTicks={bMeasTicks} digits={1}
        lines={measureLines(START_B, [bDec10, bDec20, bDec30, bDec40, bDec60, bDec70, bDec80, bDec90], bMedian, bMeasure, 3)} />
      <Panel col={2} row={0} xStart={START_ACD} xTicks={yearsACD} yTicks={cMeasTicks} digits={2}
        lines={measureLines(START_ACD, [cDec10, cDec20, cDec30, cDec40, cDec60, cDec70, cDec80, cDec90], cMedian, cMeasure, 4)} />
      <Panel col={3} row={0} xStart={START_ACD} xTicks={yearsACD} yTicks={dMeasTicks} digits={1}
        lines={measureLines(START_ACD, [dDec10, dDec20, dDec30, dDec40, dDec60, dDec70, dDec80, dDec90], dMedian, dMeasure, 4)} />

      {/* row (ii) */}
      <Panel col={0} row={1} xStart={START_ACD} xTicks={yearsACD} yTicks={aPctTicks} digits={0}
        lines={[{ data: ser(START_ACD, aPct), color: GREEN }, { data: ser(START_ACD, aRef), color: BLUE }]}
        dots={[{ data: at(START_ACD, aPct, aIncIdx), color: RED }, { data: at(START_ACD, aPct, aDecIdx), color: GREEN }]} />
      <Panel col={1} row={1} xStart={START_B} xTicks={yearsB} yTicks={bPctTicks} digits={0}
        lines={[{ data: ser(START_B, bPct), color: GREEN }, { data: ser(START_B, bRef), color: BLUE }]}
        dots={[{ data: at(START_B, bPct, bIncIdx), color: RED }, { data: at(START_B, bPct, bDecIdx), color: GREEN }]} />
      <Panel col={2} row={1} xStart={START_ACD} xTicks={yearsACD} yTicks={cPctTicks} digits={0}
        lines={[{ data: ser(START_ACD, cPct), color: GREEN }, { data: ser(START_ACD, cRef), color: BLUE }]}
        dots={[{ data: at(START_ACD, cPct, cIncIdx), color: RED }, { data: at(START_ACD, cPct, cDecIdx), color: GREEN }]} />
      <Panel col={3} row={1} xStart={START_ACD} xTicks={yearsACD} yTicks={dPctTicks} digits={0}
        lines={[{ data: ser(START_ACD, dPct), color: GREEN }, { data: ser(START_ACD, dRef), color: BLUE }]}
        dots={[{ data: at(START_ACD, dPct, dIncIdx), color: RED }, { data: at(START_ACD, dPct, dDecIdx), color: GREEN }]} />

      {/* row (iii) */}
      <Panel col={0} row={2} xStart={START_ACD} xTicks={yearsACD} yTicks={aCusTicks} digits={0}
        lines={cusumLines(START_ACD, aCusPos, aCusNeg, aThrUp, aThrLo)} />
      <Panel col={1} row={2} xStart={START_B} xTicks={yearsB} yTicks={bCusTicks} digits={0}
        lines={cusumLines(START_B, bCusPos, bCusNeg, bThrUp, bThrLo)} />
      <Panel col={2} row={2} xStart={START_ACD} xTicks={yearsACD} yTicks={cCusTicks} digits={0}
        lines={cusumLines(START_ACD, cCusPos, cCusNeg, cThrUp, cThrLo)} />
      <Panel col={3} row={2} xStart={START_ACD} xTicks={yearsACD} yTicks={dCusTicks} digits={0}
        lines={cusumLines(START_ACD, dCusPos, dCusNeg, dThrUp, dThrLo)} />

      <Overlay />
    </div>
  );
}
